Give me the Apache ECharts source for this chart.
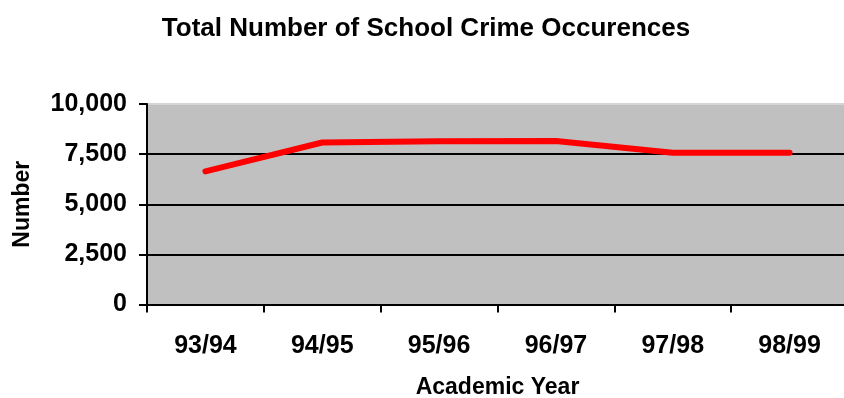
<!DOCTYPE html>
<html><head><meta charset="utf-8">
<script src="https://cdn.jsdelivr.net/npm/echarts@6/dist/echarts.min.js"></script>
<style>html,body{margin:0;padding:0;background:#fff}#c{width:844px;height:398px}</style>
</head><body><div id="c"></div>
<script>
const categories = ['93/94','94/95','95/96','96/97','97/98','98/99'];
const values = [6640, 8080, 8140, 8160, 7570, 7570];
const yTicks = [0, 2500, 5000, 7500, 10000];
const FONT = 'Liberation Sans, Arial, sans-serif';
const chart = echarts.init(document.getElementById('c'));
chart.setOption({
  animation: false,
  title: {
    text: 'Total Number of School Crime Occurences',
    left: 421, top: 11, textAlign: 'center',
    textStyle: {fontFamily: FONT, fontWeight: 'bold', fontSize: 26, color: '#000'}
  },
  grid: {left: 147, top: 104, right: -4, bottom: 93.5, show: true, backgroundColor: '#c0c0c0', borderWidth: 0,
    outerBoundsMode: 'none', containLabel: false},
  xAxis: {
    type: 'category', data: categories, boundaryGap: true,
    name: 'Academic Year', nameLocation: 'middle', nameGap: 72,
    nameTextStyle: {fontFamily: FONT, fontWeight: 'bold', fontSize: 23, color: '#000'},
    axisLine: {lineStyle: {color: '#000', width: 2}},
    axisTick: {show: true, length: 8, lineStyle: {color: '#000', width: 2}},
    axisLabel: {fontFamily: FONT, fontWeight: 'bold', fontSize: 25, color: '#000', margin: 29},
    splitLine: {show: false}
  },
  yAxis: {
    type: 'value', min: 0, max: 10000, interval: 2500,
    name: 'Number', nameLocation: 'middle', nameGap: 113, nameRotate: 90,
    nameTextStyle: {fontFamily: FONT, fontWeight: 'bold', fontSize: 23, color: '#000'},
    axisLine: {show: true, lineStyle: {color: '#000', width: 2}},
    axisTick: {show: true, length: 8, lineStyle: {color: '#000', width: 2}},
    axisLabel: {fontFamily: FONT, fontWeight: 'bold', fontSize: 25, color: '#000', margin: 20,
      formatter: v => yTicks.includes(v) ? v.toLocaleString('en-US') : ''},
    splitLine: {show: true, lineStyle: {color: ['#000', '#000', '#000', '#000', '#d4d4d4'], width: 2}}
  },
  series: [{
    type: 'line', data: values, symbol: 'none',
    lineStyle: {color: '#ff0000', width: 6, cap: 'round', join: 'round'}
  }]
});
</script></body></html>
